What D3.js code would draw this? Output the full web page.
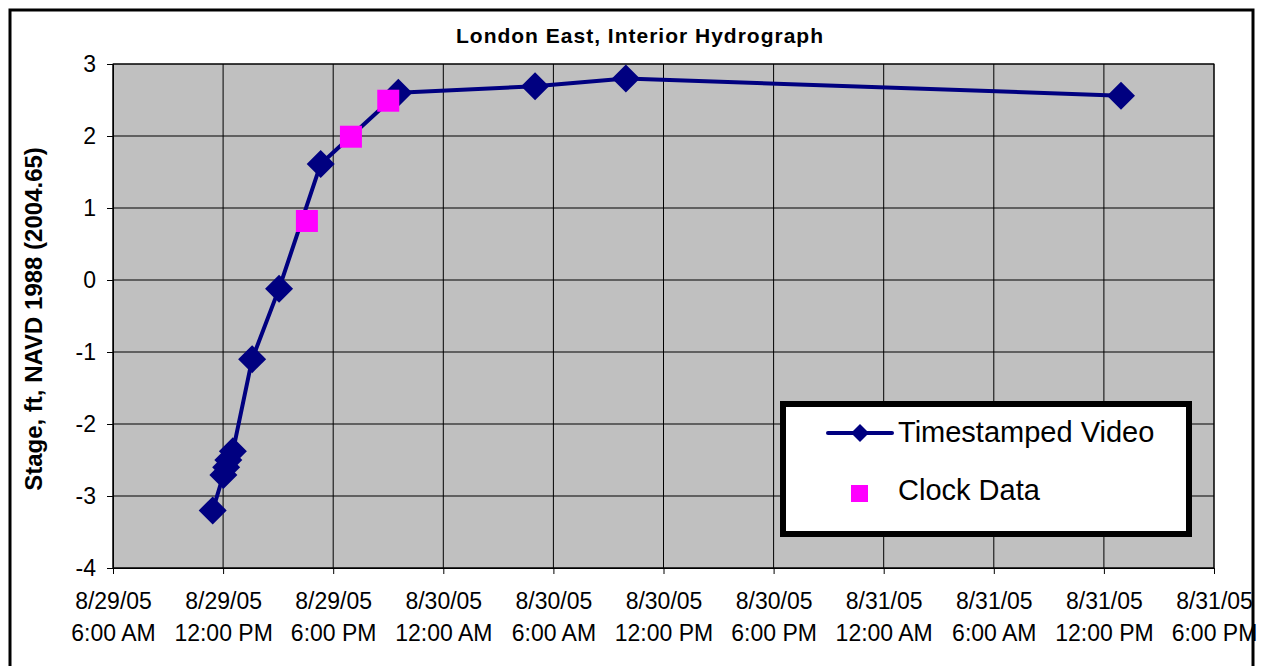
<!DOCTYPE html>
<html>
<head>
<meta charset="utf-8">
<script src="https://cdn.jsdelivr.net/npm/d3@7"></script>
<style>
  html, body { margin: 0; padding: 0; background: #fff; }
  svg { display: block; font-family: Arial, "Liberation Sans", sans-serif; }
</style>
</head>
<body>
<svg id="chart" width="1262" height="666"></svg>
<script>
// ---- data ----
const videoTimes = ["2005-08-29T11:26", "2005-08-29T12:01", "2005-08-29T12:10", "2005-08-29T12:17",
  "2005-08-29T12:32", "2005-08-29T13:35", "2005-08-29T15:03", "2005-08-29T17:19",
  "2005-08-29T21:33", "2005-08-30T05:00", "2005-08-30T09:57", "2005-08-31T12:56"];
const videoStage = [-3.2, -2.71, -2.6, -2.5, -2.38, -1.1, -0.12, 1.61, 2.6, 2.69, 2.8, 2.56];
const clockTimes = ["2005-08-29T16:34", "2005-08-29T18:58", "2005-08-29T21:00"];
const clockStage = [0.82, 1.99, 2.49];
const yTicks = [-4, -3, -2, -1, 0, 1, 2, 3];
const xTickLabels = [
  ["8/29/05", "6:00 AM"], ["8/29/05", "12:00 PM"], ["8/29/05", "6:00 PM"],
  ["8/30/05", "12:00 AM"], ["8/30/05", "6:00 AM"], ["8/30/05", "12:00 PM"],
  ["8/30/05", "6:00 PM"], ["8/31/05", "12:00 AM"], ["8/31/05", "6:00 AM"],
  ["8/31/05", "12:00 PM"], ["8/31/05", "6:00 PM"]];
const titleText = "London East, Interior Hydrograph";
const yTitle = "Stage, ft, NAVD 1988 (2004.65)";
const seriesNames = ["Timestamped Video", "Clock Data"];

// ---- setup ----
const parse = d3.timeParse("%Y-%m-%dT%H:%M");
const video = videoTimes.map((t, i) => ({ t: parse(t), v: videoStage[i] }));
const clock = clockTimes.map((t, i) => ({ t: parse(t), v: clockStage[i] }));

const svg = d3.select("#chart");
const L = 113, R = 1214, T = 64, B = 568;
const x = d3.scaleTime()
  .domain([parse("2005-08-29T06:00"), parse("2005-08-31T18:00")])
  .range([L, R]);
const y = d3.scaleLinear().domain([-4, 3]).range([B, T]);
const xTicks = d3.timeHour.every(6).range(x.domain()[0], d3.timeMinute.offset(x.domain()[1], 1));

// outer frame
svg.append("rect").attr("x", 10).attr("y", 10).attr("width", 1243).attr("height", 700)
  .attr("fill", "#fff").attr("stroke", "#000").attr("stroke-width", 3);

// plot background
svg.append("rect").attr("x", L).attr("y", T).attr("width", R - L).attr("height", B - T)
  .attr("fill", "#C0C0C0");

// grid
svg.append("g").selectAll("line").data(yTicks).join("line")
  .attr("x1", L).attr("x2", R).attr("y1", d => y(d)).attr("y2", d => y(d))
  .attr("stroke", "#000").attr("stroke-width", 1);
svg.append("g").selectAll("line").data(xTicks).join("line")
  .attr("x1", d => x(d)).attr("x2", d => x(d)).attr("y1", T).attr("y2", B)
  .attr("stroke", "#000").attr("stroke-width", 1);
svg.append("rect").attr("x", L).attr("y", T).attr("width", R - L).attr("height", B - T)
  .attr("fill", "none").attr("stroke", "#000").attr("stroke-width", 1);

// y axis
const yAxis = d3.axisLeft(y).tickValues(yTicks).tickSize(6).tickPadding(11).tickFormat(d => String(d));
const gy = svg.append("g").attr("transform", `translate(${L},0)`).call(yAxis);
gy.select(".domain").attr("stroke", "#000");
gy.selectAll(".tick line").attr("stroke", "#000");
gy.selectAll("text").attr("font-size", 23).attr("fill", "#000")
  .attr("font-family", "Arial, 'Liberation Sans', sans-serif");

// x axis
const xAxis = d3.axisBottom(x).tickValues(xTicks).tickSize(6).tickFormat("");
const gx = svg.append("g").attr("transform", `translate(0,${B})`).call(xAxis);
gx.select(".domain").attr("stroke", "#000");
gx.selectAll(".tick line").attr("stroke", "#000");
gx.selectAll(".tick").each(function (d, i) {
  const t = d3.select(this).append("text").attr("fill", "#000").attr("font-size", 23)
    .attr("text-anchor", "middle")
    .attr("font-family", "Arial, 'Liberation Sans', sans-serif");
  t.append("tspan").attr("x", 0).attr("y", 41).text(xTickLabels[i][0]);
  t.append("tspan").attr("x", 0).attr("y", 73).text(xTickLabels[i][1]);
});

// title
svg.append("text").attr("x", 640).attr("y", 43).attr("text-anchor", "middle")
  .attr("font-size", 21).attr("font-weight", "bold").attr("letter-spacing", 1)
  .text(titleText);

// y title
svg.append("text").attr("transform", `translate(42,${(T + B) / 2 + 3}) rotate(-90)`)
  .attr("text-anchor", "middle").attr("font-size", 24).attr("font-weight", "bold")
  .text(yTitle);

// series
const line = d3.line().x(d => x(d.t)).y(d => y(d.v));
svg.append("path").datum(video).attr("d", line).attr("fill", "none")
  .attr("stroke", "#000080").attr("stroke-width", 4).attr("stroke-linejoin", "round");

const diamond = s => `M0,${-s}L${s},0L0,${s}L${-s},0Z`;
svg.append("g").selectAll("path").data(video).join("path")
  .attr("transform", d => `translate(${x(d.t)},${y(d.v)})`)
  .attr("d", diamond(14)).attr("fill", "#000080");

svg.append("g").selectAll("rect").data(clock).join("rect")
  .attr("x", d => x(d.t) - 11).attr("y", d => y(d.v) - 11)
  .attr("width", 22).attr("height", 22).attr("fill", "#FF00FF");

// legend
const lg = svg.append("g");
lg.append("rect").attr("x", 783).attr("y", 404).attr("width", 406).attr("height", 130)
  .attr("fill", "#fff").attr("stroke", "#000").attr("stroke-width", 6);
lg.append("line").attr("x1", 828).attr("x2", 892).attr("y1", 433).attr("y2", 433)
  .attr("stroke", "#000080").attr("stroke-width", 4).attr("stroke-linecap", "round");
lg.append("path").attr("transform", "translate(860,433)").attr("d", diamond(9)).attr("fill", "#000080");
lg.append("rect").attr("x", 851).attr("y", 485).attr("width", 17).attr("height", 17).attr("fill", "#FF00FF");
lg.append("text").attr("x", 898).attr("y", 442).attr("font-size", 29).text(seriesNames[0]);
lg.append("text").attr("x", 898).attr("y", 500).attr("font-size", 29).text(seriesNames[1]);
</script>
</body>
</html>
